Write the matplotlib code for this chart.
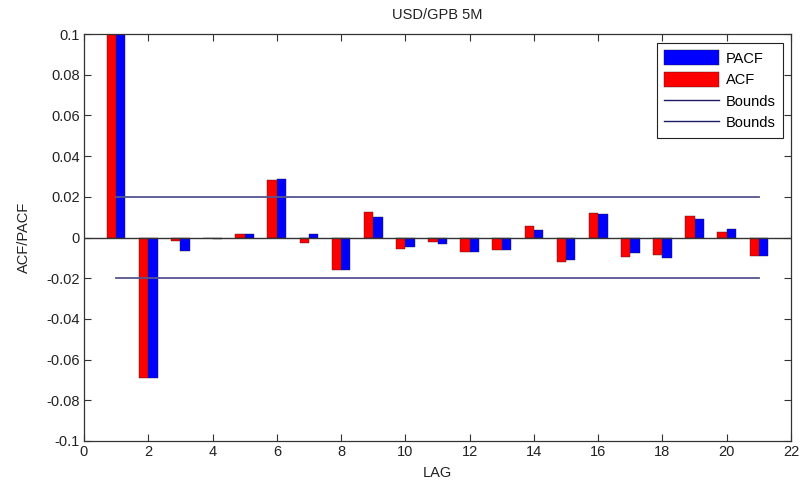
import numpy as np
import matplotlib
matplotlib.use("Agg")
import matplotlib.pyplot as plt
from matplotlib.ticker import FuncFormatter

plt.rcParams['font.family'] = ['Liberation Sans', 'DejaVu Sans']
plt.rcParams['axes.unicode_minus'] = False

lags = np.arange(1, 22)
acf = [0.100, -0.069, -0.0015, -0.0003, 0.0018, 0.0282, -0.0028, -0.0158, 0.0126, -0.0056,
       -0.0022, -0.0069, -0.0062, 0.0056, -0.0118, 0.0121, -0.0094, -0.0087, 0.0108, 0.0026, -0.0092]
pacf = [0.100, -0.069, -0.0064, -0.0008, 0.0018, 0.0287, 0.0018, -0.0158, 0.0102, -0.0046,
        -0.0033, -0.0069, -0.0062, 0.0038, -0.0110, 0.0115, -0.0076, -0.0099, 0.0090, 0.0043, -0.0092]
bound = 0.02

fs = 10.5
fig = plt.figure(figsize=(8.02, 4.88), dpi=100)
ax = fig.add_axes([84 / 802, 47 / 488, 707 / 802, 407 / 488])

w = 0.29
hp = ax.bar(lags, pacf, width=w, align='edge', color='#0000ff', edgecolor='#202040', linewidth=0.3,
            label='PACF', zorder=2)
ha = ax.bar(lags, acf, width=-w, align='edge', color='#ff0000', edgecolor='#402020', linewidth=0.3,
            label='ACF', zorder=2)
ax.axhline(0, color='#333333', linewidth=1.0, zorder=3)
hb1, = ax.plot([lags[0], lags[-1]], [bound, bound], color='#55558f', linewidth=1.3, label='Bounds')
hb2, = ax.plot([lags[0], lags[-1]], [-bound, -bound], color='#55558f', linewidth=1.3, label='Bounds')

ax.set_xlim(0, 22)
ax.set_ylim(-0.1, 0.1)
ax.set_xticks(np.arange(0, 23, 2))
ax.set_yticks(np.linspace(-0.1, 0.1, 11))
ax.yaxis.set_major_formatter(FuncFormatter(lambda v, p: '%g' % round(v, 3)))
ax.tick_params(direction='in', length=5, width=0.8, top=True, right=True, labelsize=fs,
               colors='#333333', labelcolor='#222222', pad=3)
for s in ax.spines.values():
    s.set_linewidth(0.9)
    s.set_color('#333333')

ax.set_title('USD/GPB 5M', fontsize=fs, color='#222222', pad=11)
ax.set_xlabel('LAG', fontsize=fs, color='#222222', labelpad=5)
ax.set_ylabel('ACF/PACF', fontsize=fs, color='#222222', labelpad=11)

leg = ax.legend([hp, ha, hb1, hb2], ['PACF', 'ACF', 'Bounds', 'Bounds'],
                loc='upper right', bbox_to_anchor=(783 / 802, 1 - 43 / 488),
                bbox_transform=fig.transFigure, borderaxespad=0, fancybox=False,
                framealpha=1, edgecolor='#222222', fontsize=fs, handlelength=3.8,
                handleheight=1.2, labelspacing=0.42, handletextpad=0.45, borderpad=0.5)
leg.get_frame().set_linewidth(0.8)
for line in leg.get_lines():
    line.set_color('#1a1a66')
    line.set_linewidth(1.0)

fig.savefig('out.png', dpi=100)
